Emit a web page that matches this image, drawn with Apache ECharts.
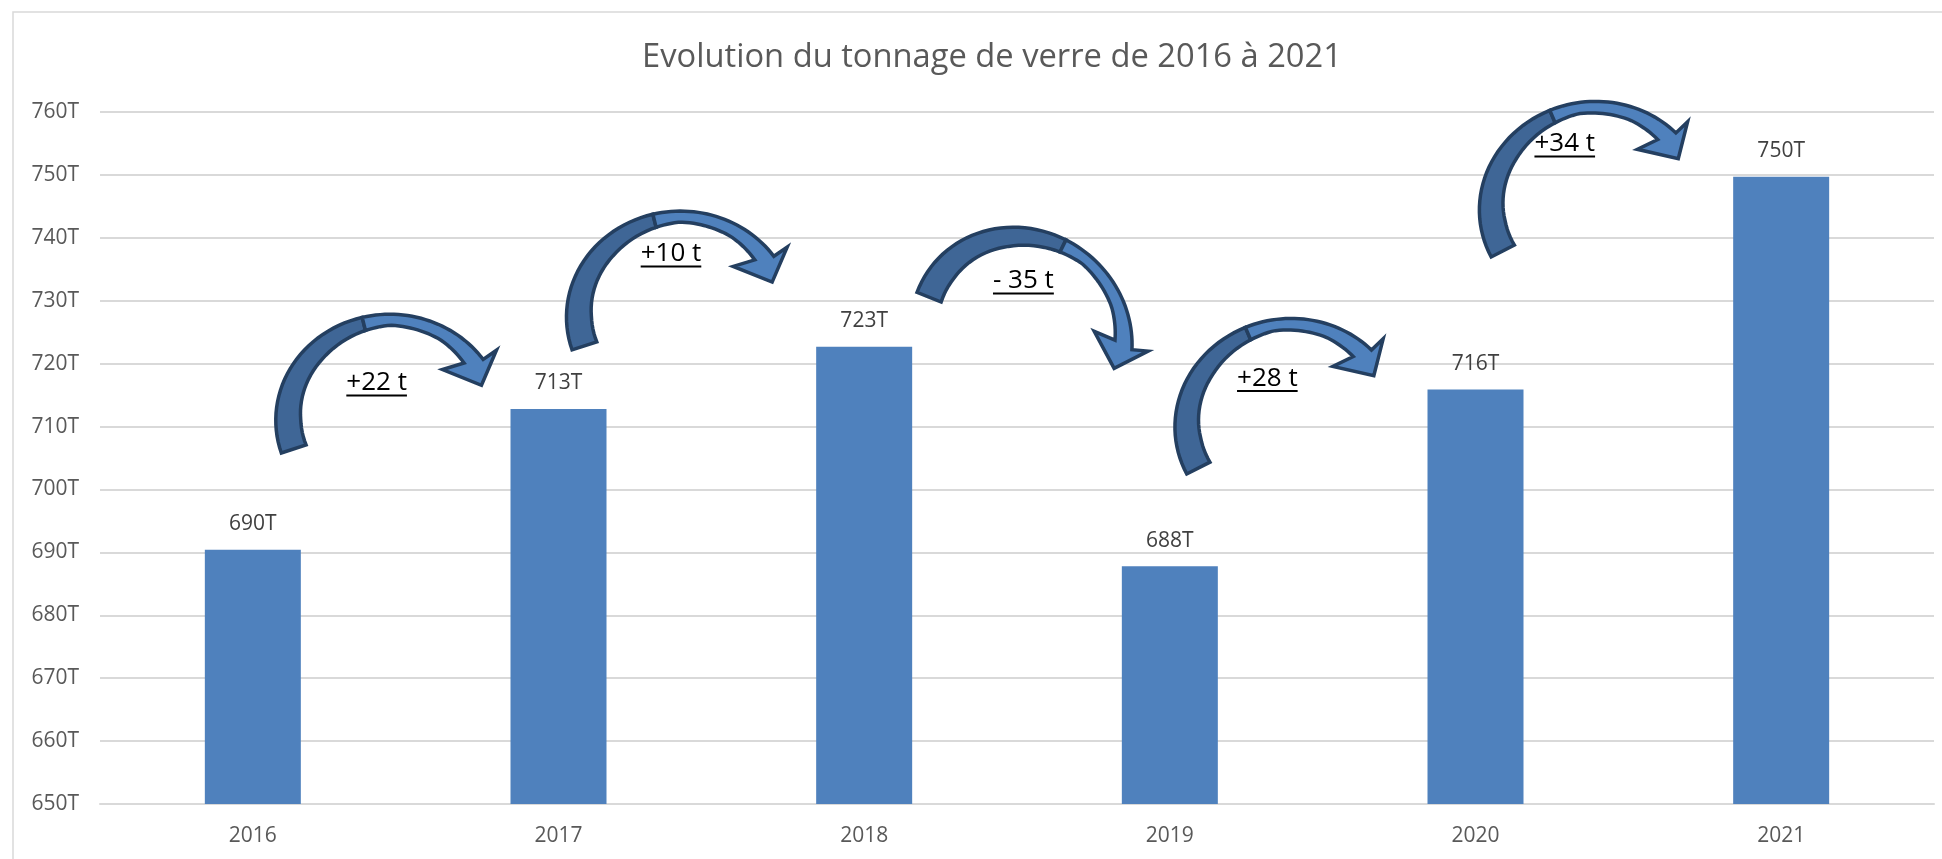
<!DOCTYPE html>
<html>
<head>
<meta charset="utf-8">
<title>Evolution du tonnage de verre</title>
<script src="https://cdn.jsdelivr.net/npm/echarts@6/dist/echarts.min.js"></script>
<style>
  html, body { margin: 0; padding: 0; background: #fff; }
  #chart { width: 1942px; height: 859px; }
</style>
</head>
<body>
<div id="chart"></div>
<script>
// données du graphique
var years = ['2016', '2017', '2018', '2019', '2020', '2021'];
var tonnage = [690.4, 712.8, 722.7, 687.8, 715.9, 749.7];

// annotations : flèches courbes + écarts
var deltaLabels = ['+22 t', '+10 t', '- 35 t', '+28 t', '+34 t'];
var deltaX = [0.405, 1.368, 2.521, 3.319, 4.292];
var deltaY = [717.0, 737.5, 733.2, 717.7, 755.0];
var arrowX = [0.448, 1.399, 2.514, 3.389, 4.385];
var arrowY = [711.0, 727.4, 724.3, 710.3, 744.8];
var arrowRot = [0, 0, 39.8, -9, -9];

var FONT = '"Open Sans", "Noto Sans", sans-serif';

// forme de la flèche (px, autour du centre de l'ellipse)
var RA = 114, RB = 106;
var widths = [[35, 18], [60, 13], [90, 11], [135, 19], [180, 25], [198, 26]];
var headPts = [[106.7, -70], [91.7, -35], [52.7, -50.7]];

function widthAt(t) {
  if (t <= widths[0][0]) return widths[0][1];
  for (var i = 0; i < widths.length - 1; i++) {
    if (t <= widths[i + 1][0]) {
      var f = (t - widths[i][0]) / (widths[i + 1][0] - widths[i][0]);
      return widths[i][1] + f * (widths[i + 1][1] - widths[i][1]);
    }
  }
  return widths[widths.length - 1][1];
}
function edgePt(t, inner) {
  var r = t * Math.PI / 180, w = inner ? widthAt(t) : 0;
  return [(RA - w) * Math.cos(r), -(RB - w) * Math.sin(r)];
}
function arc(from, to, inner) {
  var pts = [], n = 30;
  for (var i = 0; i <= n; i++) pts.push(edgePt(from + (to - from) * i / n, inner));
  return pts;
}
function place(pts, c, deg) {
  var r = deg * Math.PI / 180, cs = Math.cos(r), sn = Math.sin(r);
  return pts.map(function (p) {
    return [c[0] + p[0] * cs - p[1] * sn, c[1] + p[0] * sn + p[1] * cs];
  });
}

var measureCtx = document.createElement('canvas').getContext('2d');

var chart = echarts.init(document.getElementById('chart'));
chart.setOption({
  backgroundColor: '#fff',
  animation: false,
  title: {
    text: 'Evolution du tonnage de verre de 2016 à 2021',
    left: 987,
    top: 36,
    textAlign: 'center',
    textStyle: { fontFamily: FONT, fontSize: 32.7, fontWeight: 'normal', color: '#595959' }
  },
  graphic: [{
    type: 'rect',
    silent: true,
    shape: { x: 13, y: 12, width: 1940, height: 900 },
    style: { fill: null, stroke: '#d9d9d9', lineWidth: 1.5 }
  }],
  grid: { left: 100, right: 8, top: 112, bottom: 55, outerBoundsMode: 'none' },
  xAxis: [{
    type: 'category',
    data: years,
    axisTick: { show: false },
    axisLine: { lineStyle: { color: '#d9d9d9', width: 2 } },
    axisLabel: { color: '#595959', fontFamily: FONT, fontSize: 21, margin: 22 }
  }, {
    type: 'value',
    min: -0.5,
    max: 5.5,
    show: false
  }],
  yAxis: {
    type: 'value',
    min: 650,
    max: 760,
    interval: 10,
    axisLine: { show: false },
    axisTick: { show: false },
    splitLine: { lineStyle: { color: '#d9d9d9', width: 2 } },
    axisLabel: { color: '#595959', fontFamily: FONT, fontSize: 21, margin: 21, formatter: '{value}T' }
  },
  series: [{
    type: 'bar',
    data: tonnage,
    barWidth: 96,
    itemStyle: { color: '#4f81bd' },
    label: {
      show: true,
      position: 'top',
      distance: 15,
      color: '#404040',
      fontFamily: FONT,
      fontSize: 21,
      formatter: function (p) { return Math.round(p.value) + 'T'; }
    }
  }, {
    type: 'custom',
    xAxisIndex: 1,
    silent: true,
    z: 5,
    data: arrowX.map(function (x, i) { return [x, arrowY[i], arrowRot[i]]; }),
    renderItem: function (params, api) {
      var c = api.coord([api.value(0), api.value(1)]);
      var rot = api.value(2);
      var dark = arc(198, 104, false).concat(arc(104, 198, true));
      var light = arc(104, 35, false).concat(headPts, arc(40, 104, true));
      var st = { stroke: '#243f60', lineWidth: 3.5, lineJoin: 'miter' };
      return {
        type: 'group',
        children: [
          { type: 'polygon', shape: { points: place(dark, c, rot) }, style: Object.assign({ fill: '#3f6696' }, st) },
          { type: 'polygon', shape: { points: place(light, c, rot) }, style: Object.assign({ fill: '#4f81bd' }, st) }
        ]
      };
    }
  }, {
    type: 'custom',
    xAxisIndex: 1,
    silent: true,
    z: 6,
    data: deltaX.map(function (x, i) { return [x, deltaY[i], i]; }),
    renderItem: function (params, api) {
      var c = api.coord([api.value(0), api.value(1)]);
      var txt = deltaLabels[api.value(2)];
      var font = '26px ' + FONT;
      measureCtx.font = font;
      var w = measureCtx.measureText(txt).width;
      return {
        type: 'group',
        children: [
          { type: 'text', x: c[0], y: c[1], style: { text: txt, font: font, fill: '#000', align: 'center', verticalAlign: 'middle' } },
          { type: 'line', shape: { x1: c[0] - w / 2, y1: c[1] + 13, x2: c[0] + w / 2, y2: c[1] + 13 }, style: { stroke: '#000', lineWidth: 2 } }
        ]
      };
    }
  }]
});
</script>
</body>
</html>
